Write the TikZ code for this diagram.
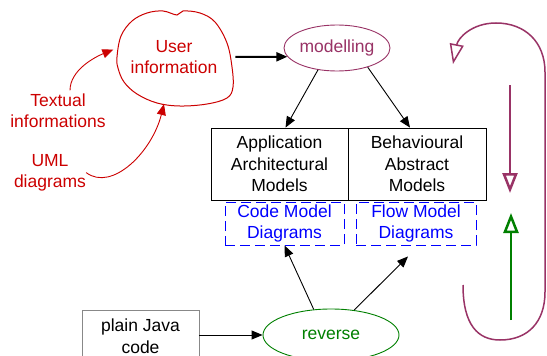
\documentclass[tikz,border=0pt]{standalone}
\usepackage{fontspec}
\setmainfont{Liberation Sans}
\usetikzlibrary{arrows.meta,shapes.geometric,calc}
\definecolor{myred}{HTML}{CC0000}
\definecolor{mypurple}{HTML}{993366}
\definecolor{mygreen}{HTML}{008000}
\definecolor{myblue}{HTML}{0000FF}
\definecolor{mygray}{HTML}{888888}
\begin{document}
\begin{tikzpicture}[x=1pt,y=-1pt,
  font=\fontsize{17.5}{21.5}\selectfont,
  box/.style={draw, line width=0.8pt, minimum height=72pt, align=center, inner sep=0pt},
  dbox/.style={draw=myblue, line width=0.9pt, dash pattern=on 10pt off 5pt, text=myblue, minimum height=43pt, align=center, inner sep=0pt},
  arr/.style={-{Triangle[length=11pt,width=9pt]}, line width=0.9pt},
  rarr/.style={arr, draw=myred},
  bigopen/.style={-{Triangle[open,length=20pt,width=15pt]}, line width=2.5pt},
  lbl/.style={align=center, inner sep=0pt}
]
\clip (0,0) rectangle (547,356);
\useasboundingbox (0,0) rectangle (547,356);
\fill[white] (0,0) rectangle (547,356);

% cloud
\draw[myred, line width=1pt] plot[smooth cycle, tension=0.6] coordinates {
  (117,57) (121,36) (132,21) (147,13) (163,11) (177,15) (183,11) (200,13)
  (215,22) (227,43) (232,67) (233,87) (227,98) (207,104) (180,106) (157,103)
  (137,94) (124,82) (118,68)};
\node[ellipse, minimum width=116pt, minimum height=95pt, lbl, text=myred] (ui) at (174,57) {User\\information};

% modelling
\node[ellipse, draw=mypurple, line width=0.9pt, text=mypurple, minimum width=106pt, minimum height=46pt, inner sep=0pt] (mod) at (337,48) {modelling};

% text sources
\node[lbl, text=myred] (tx) at (58,110.8) {Textual\\informations};
\node[lbl, text=myred] (uml) at (50,172.6) {UML\\diagrams};

% boxes
\node[box, minimum width=137pt] (aam) at (279.5,164) {Application\\Architectural\\Models};
\node[box, minimum width=138pt] (bam) at (417,164) {Behavioural\\Abstract\\Models};

% dashed boxes
\node[dbox, minimum width=119pt] (cmd) at (284.5,223.5) {Code Model\\Diagrams};
\node[dbox, minimum width=120pt] (fmd) at (416,223.5) {Flow Model\\Diagrams};

% reverse and java
\node[ellipse, draw=mygreen, line width=0.9pt, text=mygreen, minimum width=136pt, minimum height=52pt, inner sep=0pt] (rev) at (331,335) {reverse};
\node[draw=mygray, line width=0.8pt, minimum width=117pt, minimum height=60pt] (pj) at (140.5,340) {};
\node[lbl] (pjt) at (140.5,336) {plain Java\\code};

% connectors
\draw[arr, line width=2pt] (ui.east) -- (mod.190);
\draw[arr] (mod.229) -- ($(aam.north)+(6,0)$);
\draw[arr] (mod.328) -- ($(bam.north)+(-7,0)$);
\draw[rarr] ($(tx.north)+(12,-3)$) .. controls (70,70) and (95,57) .. (ui.173);
\draw[rarr] (uml.east) .. controls (112,192) and (152,152) .. (ui.258);
\draw[arr] (rev.west -| pj.east) -- (rev.west);
\draw[arr] (rev.124) -- (cmd.south);
\draw[arr] (rev.47) -- ($(fmd.south)+(-8,11)$);

% right side cycle
\draw[mypurple, line width=1.5pt, -{Triangle[open,length=20pt,width=14pt]}]
  (463,285) .. controls (463,325) and (478,340) .. (500,340)
  .. controls (528,340) and (545,322) .. (545,292) -- (545,72)
  .. controls (545,42) and (525,23) .. (496,23)
  .. controls (472,23) and (458,38) .. (453,64);
\draw[mypurple, bigopen] (510,85) -- (510,193);
\draw[mygreen, bigopen] (511,320) -- (511,213);
\end{tikzpicture}
\end{document}
